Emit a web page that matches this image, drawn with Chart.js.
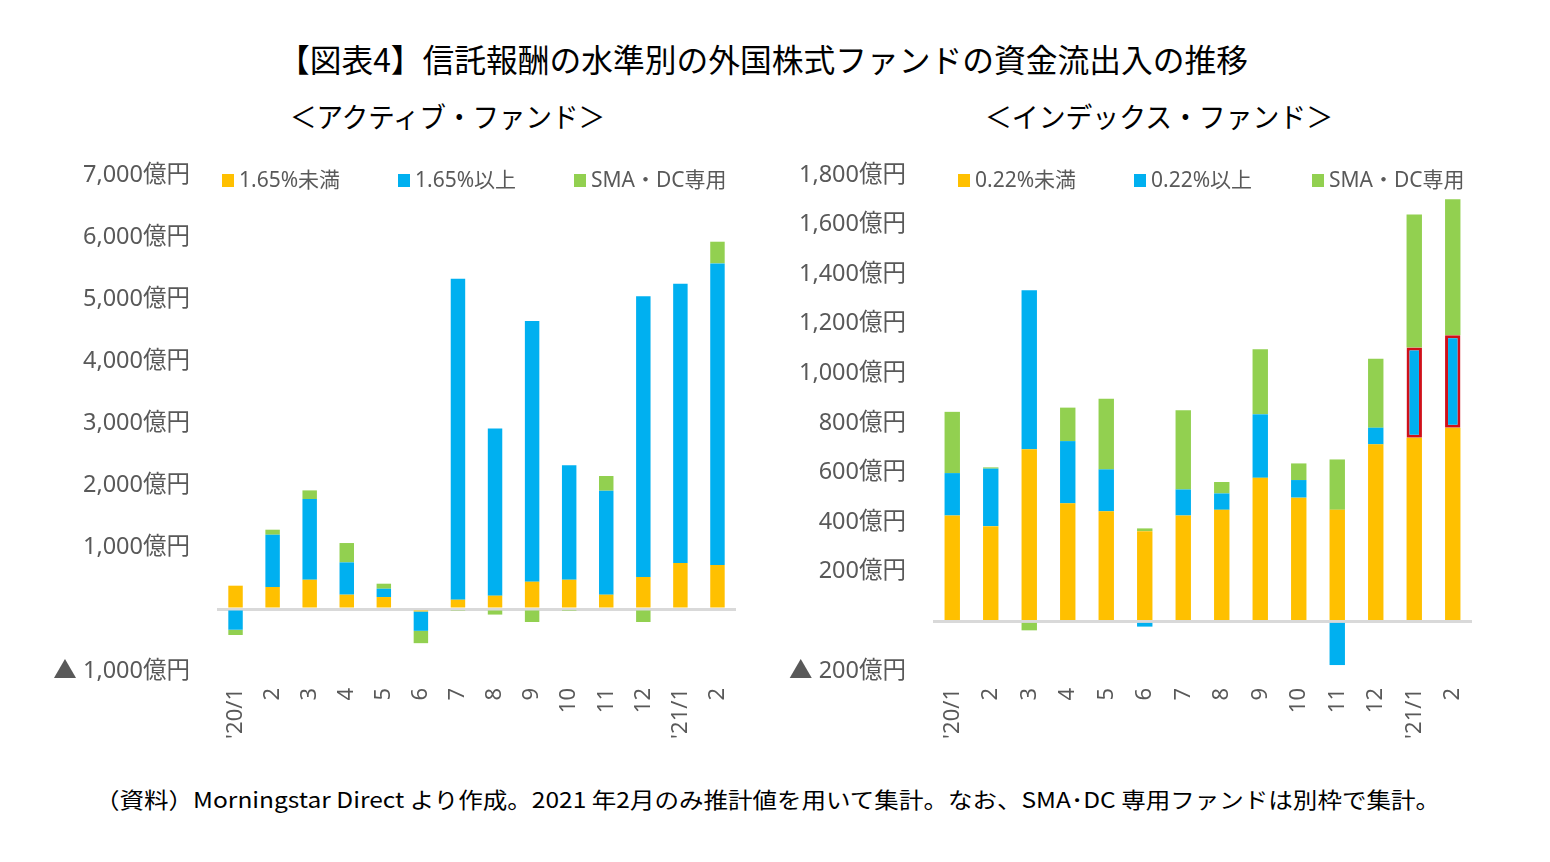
<!DOCTYPE html>
<html><head><meta charset="utf-8">
<script src="https://cdn.jsdelivr.net/npm/chart.js@4.4.1/dist/chart.umd.min.js"></script>
<style>
body{margin:0;background:#fff;width:1550px;height:862px;overflow:hidden;position:relative;font-family:'Noto Sans CJK JP',sans-serif;}
.t{position:absolute;white-space:nowrap;color:#000;transform-origin:0 50%;line-height:1;}
canvas{position:absolute;}
</style></head><body>
<div class="t" id="title">【図表4】信託報酬の水準別の外国株式ファンドの資金流出入の推移</div>
<div class="t" id="subL">＜アクティブ・ファンド＞</div>
<div class="t" id="subR">＜インデックス・ファンド＞</div>
<div class="t" id="foot">（資料）Morningstar Direct より作成。2021 年2月のみ推計値を用いて集計。なお、SMA･DC 専用ファンドは別枠で集計。</div>
<canvas id="cL" width="760" height="620" style="left:0;top:150px;width:760px;height:620px"></canvas>
<canvas id="cR" width="790" height="620" style="left:760px;top:150px;width:790px;height:620px"></canvas>
<script>
const categories = ["'20/1","2","3","4","5","6","7","8","9","10","11","12","'21/1","2"];
const activeLabels = ["1.65%未満","1.65%以上","SMA・DC専用"];
const activeLow  = [376,355,472,231,193,-40,150,215,440,472,231,516,742,710];
const activeHigh = [-334,843,1302,521,134,-312,5177,2698,4205,1845,1677,4527,4505,4864];
const activeSma  = [-85,81,139,312,81,-199,-30,-90,-210,-15,237,-210,0,350];
const indexLabels = ["0.22%未満","0.22%以上","SMA・DC専用"];
const indexLow  = [427,384,694,476,444,364,427,450,579,499,450,714,741,781];
const indexHigh = [171,232,641,251,169,-21,105,66,256,71,-176,67,363,373];
const indexSma  = [247,5,-36,135,285,11,319,46,262,67,203,278,537,548];
const activeTicks = {min:-1000,max:7000,step:1000};
const indexTicks = {min:-200,max:1800,step:200};
const highlightIndex = [12,13];

const COLORS = ['#FFC000','#00B0F0','#92D050'];
const FONT = "'Noto Sans','Noto Sans CJK JP',sans-serif";
const AREA_TOP = 175, AREA_BOTTOM = 671;

function place(id, left, cy, width, size){
  const el=document.getElementById(id);
  el.style.fontSize=size+'px';
  el.style.left=left+'px';
  el.style.top=(cy-size/2)+'px';
  const w=el.getBoundingClientRect().width;
  el.style.transform='scaleX('+(width/w)+')';
}
place('title',278,58,970,32);
place('subL',290,116,315,28);
place('subR',985,116,348,28);
place('foot',95,798,1345,22);

const legendPlugin={
  id:'customLegend',
  afterDraw(chart,args,opts){
    const ctx=chart.ctx;
    const y=chart.chartArea.top+5;
    ctx.save();
    ctx.font='21px '+FONT;
    ctx.textBaseline='middle';
    ctx.textAlign='left';
    opts.labels.forEach((lab,i)=>{
      const x=opts.xs[i];
      ctx.fillStyle=COLORS[i];
      ctx.fillRect(x,y-6,12,13);
      ctx.fillStyle='#595959';
      ctx.fillText(lab,x+17,y+1);
    });
    ctx.restore();
  }
};

function fmt(v){
  if(v===0) return '';
  const s=Math.abs(v).toLocaleString('en-US')+'億円';
  return v<0 ? '▲ '+s : s;
}

function makeChart(id, labels, series, ticks, yWidth, areaRight, legendXs, hl, barPct){
  const datasets=series.map((d,i)=>{
    const ds={label:labels[i],data:d,backgroundColor:COLORS[i],borderWidth:0,
      barPercentage:barPct,categoryPercentage:1.0};
    if(hl && i===1){
      ds.borderColor=d.map((v,j)=>hl.includes(j)?'#D0101A':'rgba(0,0,0,0)');
      ds.borderWidth=d.map((v,j)=>hl.includes(j)?3:0);
      ds.borderSkipped=false;
    }
    return ds;
  });
  const canvas=document.getElementById(id);
  const padRight=canvas.width-areaRight;
  const chart=new Chart(canvas,{
    type:'bar',
    data:{labels:categories,datasets},
    options:{
      responsive:false,animation:false,devicePixelRatio:1,
      layout:{padding:{top:25,right:padRight,left:0,bottom:0}},
      plugins:{legend:{display:false},tooltip:{enabled:false},
        customLegend:{labels,xs:legendXs}},
      scales:{
        x:{stacked:true,grid:{display:false,drawTicks:false},border:{display:false},
          ticks:{minRotation:90,maxRotation:90,autoSkip:false,color:'#595959',
            font:{family:FONT,size:22},padding:17},
          afterFit(s){s.height=97;s.paddingTop=0;s.paddingBottom=0;s.paddingLeft=0;s.paddingRight=0;}},
        y:{stacked:true,min:ticks.min,max:ticks.max,
          ticks:{stepSize:ticks.step,color:'#595959',font:{family:FONT,size:23.5},padding:27,
            callback:(v)=>fmt(v)},
          grid:{drawTicks:false,color:(c)=>c.tick&&c.tick.value===0?'#D9D9D9':'rgba(0,0,0,0)',
            lineWidth:(c)=>c.tick&&c.tick.value===0?3:0},
          border:{display:false},
          afterFit(s){s.width=yWidth;s.paddingTop=0;s.paddingBottom=0;}}
      }
    },
    plugins:[legendPlugin]
  });
  // keep the plot area at the reference's extent
  const want=AREA_BOTTOM-AREA_TOP;
  for(let k=0;k<4;k++){
    const dr=areaRight-chart.chartArea.right;
    const dh=want-(chart.chartArea.bottom-chart.chartArea.top);
    if(Math.abs(dr)<0.5 && Math.abs(dh)<0.5) break;
    if(Math.abs(dh)>=0.5){
      const h=Math.round(canvas.height+dh);
      chart.options.layout.padding.right-=dr;
      chart.resize(canvas.width,h);
      canvas.style.height=h+'px';
    } else {
      chart.options.layout.padding.right-=dr;
      chart.update();
    }
  }
  canvas.style.top=(AREA_TOP-chart.chartArea.top)+'px';
  return chart;
}

makeChart('cL',activeLabels,[activeLow,activeHigh,activeSma],activeTicks,217,736,[222,398,574],null,0.39);
makeChart('cR',indexLabels,[indexLow,indexHigh,indexSma],indexTicks,173,712,[198,374,552],highlightIndex,0.40);
</script>
</body></html>
